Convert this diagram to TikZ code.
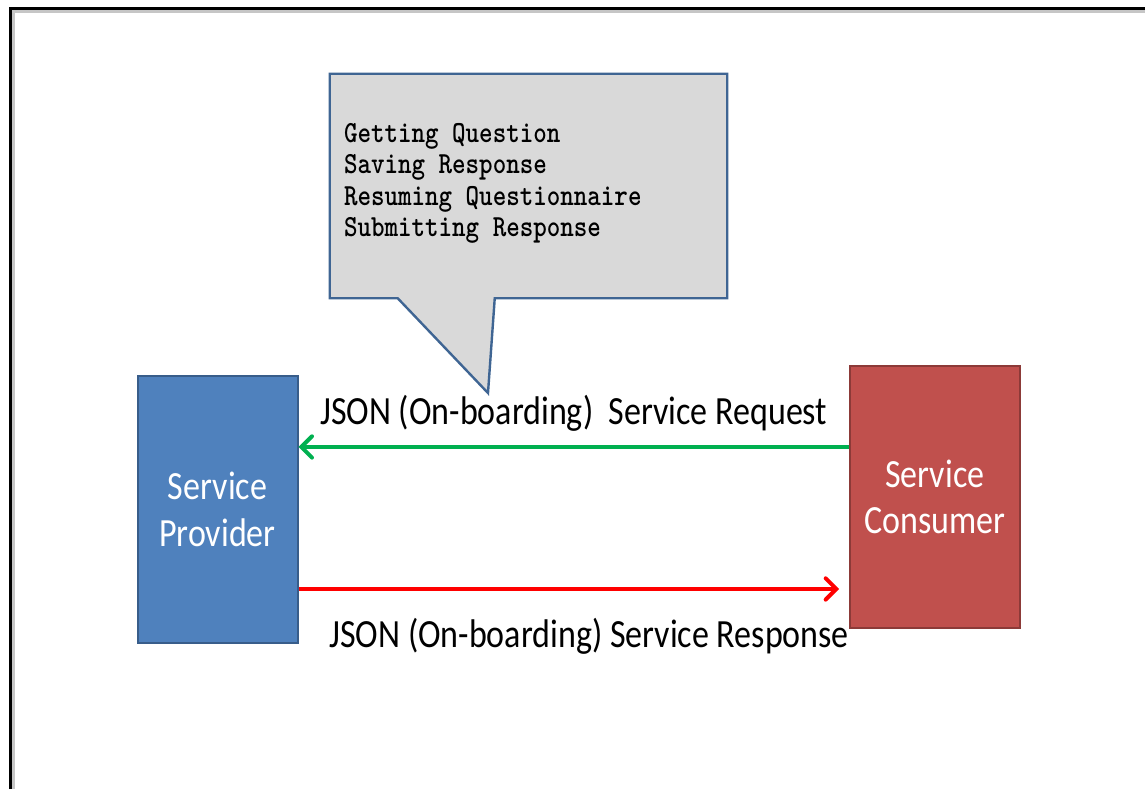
\documentclass[tikz,border=0pt]{standalone}
\usepackage{fontspec}
\usepackage{tikz}
\usetikzlibrary{arrows.meta, positioning, calc, backgrounds}
\newfontfamily\calfont[FakeStretch=0.85]{Carlito}
\newfontfamily\taskfont{lmmonolt10-bold}[Extension=.otf, FakeStretch=0.84]
\definecolor{provblue}{HTML}{4F81BD}
\definecolor{provblueedge}{HTML}{385D8A}
\definecolor{consred}{HTML}{C0504D}
\definecolor{consrededge}{HTML}{8C3A38}
\definecolor{bubblegray}{HTML}{D9D9D9}
\definecolor{bubbleedge}{HTML}{3F6593}
\definecolor{reqgreen}{HTML}{00B050}
\definecolor{resred}{HTML}{FF0000}
\tikzset{
  % Endpoint boxes
  party/.style={
    rectangle, draw=#1edge, fill=#1, text=white, line width=1.5pt,
    minimum width=120pt, minimum height=200pt, align=center,
    font=\calfont\fontsize{30pt}{35pt}\selectfont,
  },
  % Callout bubble
  bubble/.style={
    draw=bubbleedge, fill=bubblegray, line width=1.8pt, line join=miter,
  },
  tasktext/.style={
    font=\taskfont\fontsize{23pt}{23.6pt}\selectfont, align=left,
    inner sep=0pt, text=black,
  },
  % Arrows
  msgarrow/.style={-{Straight Barb[length=8pt, width=16pt, line cap=round]},
    line width=3pt, draw=#1},
  % Labels on arrows
  msglabel/.style={font=\calfont\fontsize{30pt}{35pt}\selectfont, text=black,
    inner sep=0pt, anchor=base},
}
\begin{document}
\begin{tikzpicture}[x=0.75pt, y=-0.75pt]
  \useasboundingbox (0,0) rectangle (1145,789);

  % Page frame
  \draw[gray!45, line width=2.5pt] (13.5,789) -- (13.5,11.5) -- (1145,11.5);
  \draw[black, line width=2.25pt] (10,789) -- (10,8) -- (1145,8);

  % Service boxes
  \node[party=provblue] (provider) at (217.5,509.5) {Service\\Provider};
  \node[party=consred, minimum width=127pt, minimum height=196pt,
    right=413pt of provider, yshift=9.4pt] (consumer) {Service\\Consumer};

  % Callout with the service operations
  \node[minimum width=297.75pt, minimum height=168pt, inner sep=0pt] (callout)
    at (528.5,186) {};
  \coordinate (tip) at (488,393);
  \begin{scope}[on background layer]
    \draw[bubble] (callout.north west) -- (callout.north east)
      -- (callout.south east) -- ($(callout.south west)+(165,0)$)
      -- (tip) -- ($(callout.south west)+(68,0)$) -- (callout.south west) -- cycle;
  \end{scope}
  \node[tasktext, anchor=north west] (tasks)
    at ($(callout.north west)+(14,49)$) {Getting Question\\Saving Response\\Resuming Questionnaire\\Submitting Response};

  % Request and response
  \draw[msgarrow=reqgreen] ([yshift=37.5pt]consumer.west) coordinate (reqstart)
    -- (reqstart -| provider.east)
    node[msglabel, midway, yshift=16.5pt] (reqlabel) {JSON (On-boarding)\ \ Service Request};
  \draw[msgarrow=resred, shorten >=7.5pt] ([yshift=-59.6pt]provider.east) coordinate (resstart)
    -- (resstart -| consumer.west)
    node[msglabel, midway, xshift=11.5pt, yshift=-44pt] (reslabel) {JSON (On-boarding) Service Response};

\end{tikzpicture}
\end{document}
